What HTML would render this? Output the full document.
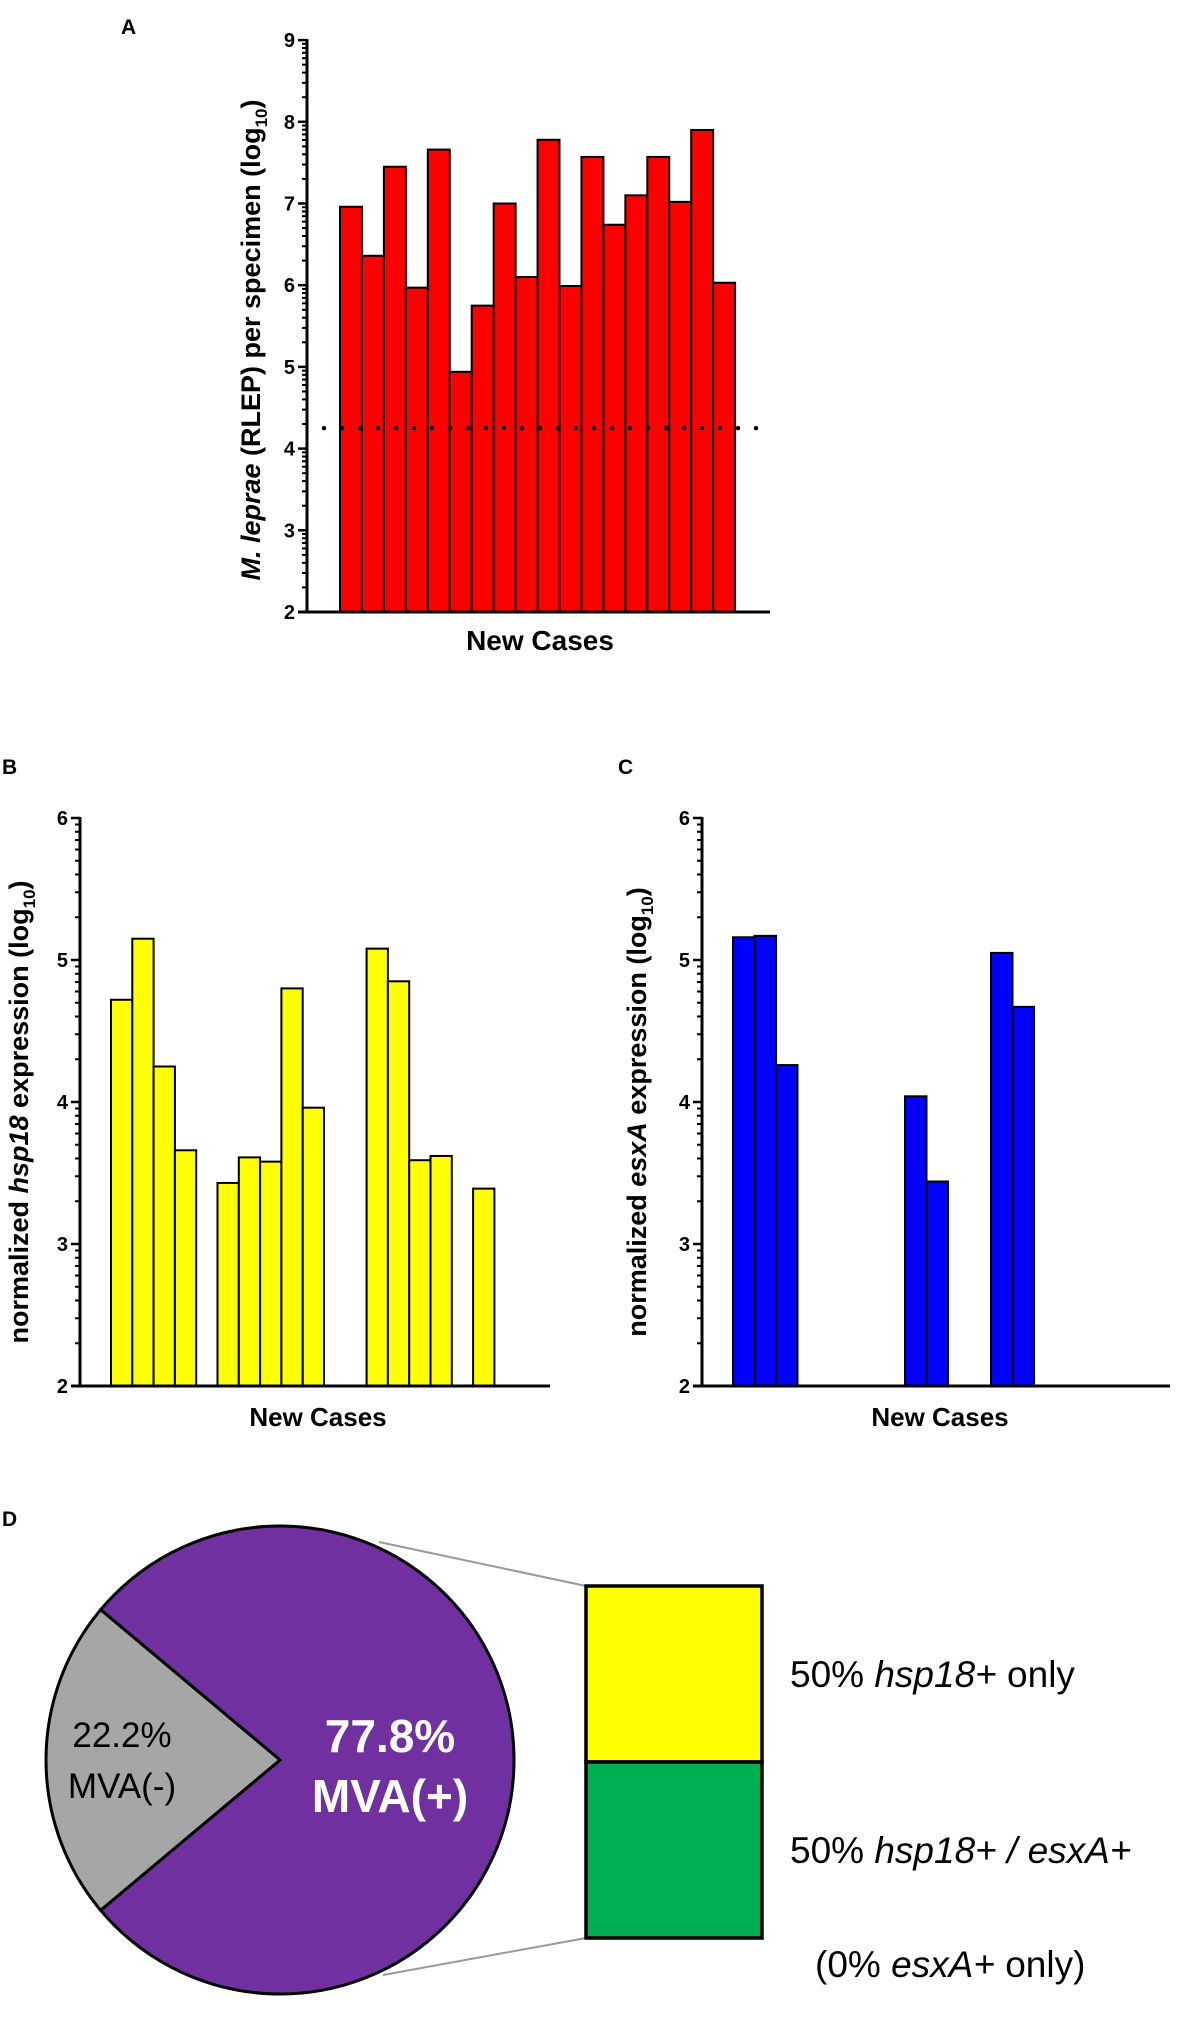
<!DOCTYPE html>
<html><head><meta charset="utf-8">
<style>
html,body{margin:0;padding:0;background:#fff;}
svg{display:block;font-family:"Liberation Sans",Arial,sans-serif;}
</style></head>
<body>
<svg id="fig" width="1181" height="2019" viewBox="0 0 1181 2019" xmlns="http://www.w3.org/2000/svg">
  <text x="121" y="34" font-size="21" font-weight="bold">A</text>
  <text x="2" y="774" font-size="21" font-weight="bold">B</text>
  <text x="618" y="774" font-size="21" font-weight="bold">C</text>
  <text x="2" y="1526" font-size="21" font-weight="bold">D</text>

  <g id="chartA"></g>
  <g id="chartB"></g>
  <g id="chartC"></g>

  <text transform="translate(260,340) rotate(-90)" text-anchor="middle" font-size="27" font-weight="bold"><tspan font-style="italic">M. leprae</tspan> (RLEP) per specimen (log<tspan font-size="17" dy="7">10</tspan><tspan dy="-7">)</tspan></text>
  <text x="540" y="650" text-anchor="middle" font-size="28" font-weight="bold">New Cases</text>

  <text transform="translate(28,1112) rotate(-90)" text-anchor="middle" font-size="27" font-weight="bold">normalized <tspan font-style="italic">hsp18</tspan> expression (log<tspan font-size="17" dy="7">10</tspan><tspan dy="-7">)</tspan></text>
  <text x="318" y="1426" text-anchor="middle" font-size="26" font-weight="bold">New Cases</text>

  <text transform="translate(646,1112) rotate(-90)" text-anchor="middle" font-size="27" font-weight="bold">normalized <tspan font-style="italic">esxA</tspan> expression (log<tspan font-size="17" dy="7">10</tspan><tspan dy="-7">)</tspan></text>
  <text x="940" y="1426" text-anchor="middle" font-size="26" font-weight="bold">New Cases</text>

  <g id="chartD"></g>
</svg>
<script>
// ---- Panel A data ----
const aCases = ["1","2","3","4","5","6","7","8","9","10","11","12","13","14","15","16","17","18"];
const aValues = [6.96,6.36,7.45,5.97,7.66,4.94,5.75,7.0,6.1,7.78,5.99,7.57,6.74,7.1,7.57,7.02,7.9,6.03];
const aTicks = [2,3,4,5,6,7,8,9];
const aDetectionLimit = 4.25;
// ---- Panel B data ----
const bValues = [4.72,5.15,4.25,3.66,null,3.43,3.61,3.58,4.8,3.96,null,null,5.08,4.85,3.59,3.62,null,3.39];
const bTicks = [2,3,4,5,6];
// ---- Panel C data ----
const cValues = [5.16,5.17,4.26,null,null,null,null,null,4.04,3.44,null,null,5.05,4.67,null,null,null,null];
const cTicks = [2,3,4,5,6];
// ---- Panel D data ----
const pieLabels = ["MVA(-)","MVA(+)"];
const piePcts = [22.2, 77.8];
const subLabels = ["hsp18+ only","hsp18+ / esxA+"];
const subPcts = [50, 50];

const NS = "http://www.w3.org/2000/svg";
function mk(tag, attrs, parent){
  const e = document.createElementNS(NS, tag);
  for (const k in attrs) e.setAttribute(k, attrs[k]);
  parent.appendChild(e);
  return e;
}

function barChart(g, cfg){
  const yScale = v => cfg.y0 - (v - cfg.vmin) * cfg.pxPerUnit;
  const xScale = i => cfg.barStart + i * cfg.slot;
  cfg.values.forEach((v, i) => {
    if (v === null) return;
    const r = mk("rect", {x: xScale(i), y: yScale(v), width: cfg.slot, height: yScale(cfg.vmin) - yScale(v), fill: cfg.color, stroke: "#000", "stroke-width": 2}, g);
    
    
  });
  const yTop = yScale(cfg.ticks[cfg.ticks.length - 1]);
  const ax = mk("line", {x1: cfg.axisX, y1: yTop - 1, x2: cfg.axisX, y2: cfg.y0 + 1.5, stroke: "#000", "stroke-width": 3}, g);
  
  
  const xl = mk("line", {x1: cfg.axisX - 9, y1: cfg.y0, x2: cfg.axisEnd, y2: cfg.y0, stroke: "#000", "stroke-width": 3}, g);
  
  
  cfg.ticks.forEach((t, ti) => {
    const ty = yScale(t);
    const tk = mk("line", {x1: cfg.axisX - 9, y1: ty, x2: cfg.axisX, y2: ty, stroke: "#000", "stroke-width": 2.5}, g);
    
    
    const lb = mk("text", {x: cfg.axisX - 12, y: ty + 7, "text-anchor": "end", "font-size": 20, "font-weight": "bold"}, g);
    lb.textContent = t;
    
    
    if (ti < cfg.ticks.length - 1) {
      for (let k = 2; k <= 9; k++) {
        const my = yScale(t + Math.log10(k));
        const mt = mk("line", {x1: cfg.axisX - 5, y1: my, x2: cfg.axisX, y2: my, stroke: "#000", "stroke-width": 2}, g);
        
        
      }
    }
  });
  return yScale;
}

const yA = barChart(document.getElementById("chartA"), {values: aValues, ticks: aTicks, vmin: 2, y0: 612, pxPerUnit: 81.7, barStart: 340, slot: 21.95, axisX: 307, axisEnd: 770, color: "#ff0000"});
(function(){
  const g = document.getElementById("chartA");
  const dy = yA(aDetectionLimit);
  const ln = mk("line", {x1: 324, y1: dy, x2: 768, y2: dy, stroke: "#000", "stroke-width": 4.5, "stroke-dasharray": "0 18", "stroke-linecap": "round"}, g);
  
  
})();

barChart(document.getElementById("chartB"), {values: bValues, ticks: bTicks, vmin: 2, y0: 1386, pxPerUnit: 142, barStart: 111, slot: 21.3, axisX: 80, axisEnd: 550, color: "#ffff00"});
barChart(document.getElementById("chartC"), {values: cValues, ticks: cTicks, vmin: 2, y0: 1386, pxPerUnit: 142, barStart: 733, slot: 21.5, axisX: 702, axisEnd: 1170, color: "#0000ff"});

(function(){
  const g = document.getElementById("chartD");
  const cx = 280, cy = 1760, r = 234;
  const total = piePcts.reduce((a, b) => a + b, 0);
  const half = piePcts[0] / total * Math.PI;
  const a0 = Math.PI - half, a1 = Math.PI + half;
  const p = a => [cx + r * Math.cos(a), cy + r * Math.sin(a)];
  const [x0, y0] = p(a0), [x1, y1] = p(a1);
  const big = (2 * half) > Math.PI ? 1 : 0;
  const purple = mk("path", {d: `M${cx},${cy} L${x1},${y1} A${r},${r} 0 ${1 - big} 1 ${x0},${y0} Z`, fill: "#7030a0", stroke: "#000", "stroke-width": 3}, g);
  
  
  const gray = mk("path", {d: `M${cx},${cy} L${x0},${y0} A${r},${r} 0 ${big} 1 ${x1},${y1} Z`, fill: "#a6a6a6", stroke: "#000", "stroke-width": 3}, g);
  
  

  const t1 = mk("text", {x: 122, y: 1747, "text-anchor": "middle", "font-size": 35, fill: "#000"}, g);
  t1.textContent = piePcts[0].toFixed(1) + "%";
  
  
  const t2 = mk("text", {x: 122, y: 1798, "text-anchor": "middle", "font-size": 35, fill: "#000"}, g);
  t2.textContent = pieLabels[0];
  
  
  const t3 = mk("text", {x: 390, y: 1752, "text-anchor": "middle", "font-size": 46, "font-weight": "bold", fill: "#fff"}, g);
  t3.textContent = piePcts[1].toFixed(1) + "%";
  
  
  const t4 = mk("text", {x: 390, y: 1812, "text-anchor": "middle", "font-size": 46, "font-weight": "bold", fill: "#fff"}, g);
  t4.textContent = pieLabels[1];
  
  

  const c1 = mk("line", {x1: 379, y1: 1542, x2: 586, y2: 1586, stroke: "#999", "stroke-width": 2}, g);
  
  
  const c2 = mk("line", {x1: 383, y1: 1975, x2: 586, y2: 1938, stroke: "#999", "stroke-width": 2}, g);
  
  

  const bx = 586, bw = 176, bTop = 1586, bH = 352;
  const colors = ["#ffff00", "#00b050"];
  const subTotal = subPcts.reduce((a, b) => a + b, 0);
  let yy = bTop;
  subPcts.forEach((v, i) => {
    const h = v / subTotal * bH;
    const rc = mk("rect", {x: bx, y: yy, width: bw, height: h, fill: colors[i], stroke: "#000", "stroke-width": 3.5}, g);
    
    
    const tx = mk("text", {x: 790, y: yy + h / 2 + 13, "font-size": 37, fill: "#000"}, g);
    
    
    tx.appendChild(document.createTextNode(v + "% "));
    if (i === 0) {
      const it = mk("tspan", {"font-style": "italic"}, tx); it.textContent = "hsp18+";
      tx.appendChild(document.createTextNode(" only"));
    } else {
      const it = mk("tspan", {"font-style": "italic"}, tx); it.textContent = "hsp18+ / esxA+";
    }
    yy += h;
  });
})();
</script>
<div style="position:absolute;left:815px;top:1944px;font-family:'Liberation Sans',Arial,sans-serif;font-size:37px;color:#000;white-space:nowrap">(0% <i>esxA+</i> only)</div>
</body></html>
